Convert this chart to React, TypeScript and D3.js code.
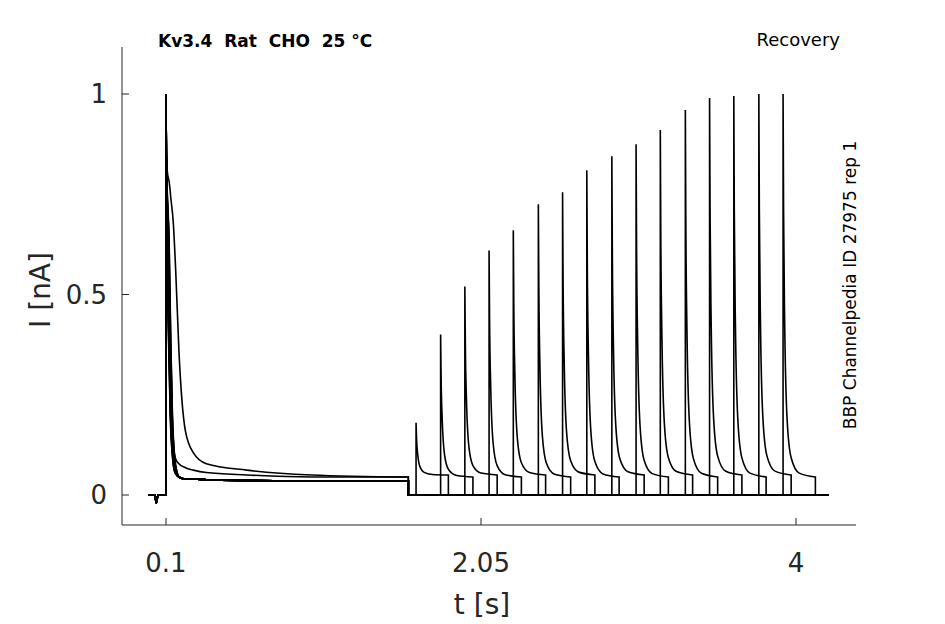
import * as d3 from "d3";
import React, { useRef, useEffect } from "react";

// test pulse onset times (s) and normalised peak currents
const testStarts = [1.648, 1.8, 1.95, 2.1, 2.25, 2.405, 2.555, 2.705, 2.86, 3.01, 3.16, 3.315, 3.465, 3.615, 3.77, 3.92];
const testPeaks = [0.18, 0.4, 0.52, 0.61, 0.66, 0.725, 0.755, 0.81, 0.845, 0.875, 0.91, 0.96, 0.99, 0.995, 1.0, 1.0];
const testPlateau = [0.05, 0.045, 0.05, 0.045, 0.05, 0.045, 0.05, 0.045, 0.05, 0.045, 0.05, 0.045, 0.05, 0.045, 0.05, 0.045];

// conditioning pulse decay, time knots shared by all sweeps
const condTimes = [0.1, 0.102, 0.11, 0.12, 0.13, 0.145, 0.16, 0.18, 0.22, 0.27, 0.35, 0.6, 1.0, 1.6];
const condFast = [1.0, 0.85, 0.62, 0.38, 0.2, 0.09, 0.055, 0.045, 0.04, 0.04, 0.038, 0.036, 0.035, 0.035];
const condMid = [1.0, 0.85, 0.66, 0.44, 0.25, 0.12, 0.09, 0.078, 0.068, 0.062, 0.056, 0.05, 0.045, 0.045];
const condSlow = [1.0, 0.84, 0.8, 0.78, 0.74, 0.68, 0.56, 0.36, 0.16, 0.105, 0.078, 0.062, 0.05, 0.045];
const condShift = [0, 0.004, -0.003, 0.008, 0.002, -0.004, 0.01, 0.003, -0.002, 0.006, 0.001, 0.009, -0.001, 0.005];

// test pulse shape relative to onset
const testDt = [0, 0.003, 0.01, 0.025, 0.05, 0.1, 0.2];
const testShape = [1, 0.7, 0.4, 0.15, 0.05, 0.01, 0];
const testLen = 0.2;

const xTicks = [0.1, 2.05, 4];
const yTicks = [0, 0.5, 1];

export default function App() {
  const ref = useRef<SVGSVGElement | null>(null);

  useEffect(() => {
    const svg = d3.select(ref.current);
    svg.selectAll("*").remove();
    const x = d3.scaleLinear().domain([0.1, 4]).range([166, 796]);
    const y = d3.scaleLinear().domain([0, 1]).range([495, 94]);
    const x0 = 122, x1 = 856, y0 = 525, y1 = 47;

    const sweeps = testStarts.map((ts, i) => {
      const sh = condShift[i % condShift.length];
      let cond = condFast;
      if (i === 14) cond = condMid;
      if (i === 15) cond = condSlow;
      const seg1: [number, number][] = [[-0.01, 0], [0.03, 0], [0.04, -0.02], [0.05, 0], [0.0995, 0]];
      condTimes.forEach((t, k) => seg1.push([t + (k > 1 && k < 7 && i < 14 ? sh : 0), cond[k]]));
      const seg2: [number, number][] = [[1.6, 0], [ts, 0]];
      const pl = testPlateau[i];
      const seg3: [number, number][] = testDt.map((d, k) => [ts + d, pl + (testPeaks[i] - pl) * testShape[k]]);
      const seg4: [number, number][] = [[ts + testLen, pl], [ts + testLen, 0], [4.2, 0]];
      return [seg1, seg2, seg3, seg4];
    });

    const smooth = d3.line<[number, number]>().x(d => x(d[0])).y(d => y(d[1])).curve(d3.curveMonotoneX);
    const lin = d3.line<[number, number]>().x(d => x(d[0])).y(d => y(d[1]));
    const g = svg.append("g").attr("fill", "none").attr("stroke", "#000").attr("stroke-width", 1.6);
    sweeps.forEach(s => {
      const d = [lin(s[0].slice(0, 5)), smooth(s[0].slice(4)), lin([s[0][s[0].length - 1], ...s[1], s[2][0]]),
        smooth(s[2]), lin([s[2][s[2].length - 1], ...s[3]])].join("");
      g.append("path").attr("d", d.replace(/M/g, (m, off) => (off === 0 ? "M" : "L")));
    });

    const ax = svg.append("g").attr("stroke", "#262626").attr("stroke-width", 1);
    ax.append("line").attr("x1", x0).attr("x2", x0).attr("y1", y1).attr("y2", y0);
    ax.append("line").attr("x1", x0).attr("x2", x1).attr("y1", y0).attr("y2", y0);
    xTicks.forEach(t => ax.append("line").attr("x1", x(t)).attr("x2", x(t)).attr("y1", y0).attr("y2", y0 - 7));
    yTicks.forEach(t => ax.append("line").attr("x1", x0).attr("x2", x0 + 7).attr("y1", y(t)).attr("y2", y(t)));

    const txt = svg.append("g").attr("font-family", "DejaVu Sans").attr("fill", "#262626");
    xTicks.forEach(t => txt.append("text").attr("x", x(t)).attr("y", 572).attr("text-anchor", "middle")
      .attr("font-size", 26).text(String(t)));
    yTicks.forEach(t => txt.append("text").attr("x", 107).attr("y", y(t) + 9).attr("text-anchor", "end")
      .attr("font-size", 26).text(String(t)));
    txt.append("text").attr("x", 482).attr("y", 614).attr("text-anchor", "middle").attr("font-size", 28).text("t [s]");
    txt.append("text").attr("transform", "translate(50,290) rotate(-90)").attr("text-anchor", "middle")
      .attr("font-size", 28).text("I [nA]");
    txt.append("text").attr("x", 158).attr("y", 47).attr("font-size", 17).attr("font-weight", "bold")
      .attr("fill", "#000").style("white-space", "pre").text("Kv3.4  Rat  CHO  25 °C");
    txt.append("text").attr("x", 840).attr("y", 46).attr("text-anchor", "end").attr("font-size", 18)
      .attr("fill", "#000").text("Recovery");
    txt.append("text").attr("transform", "translate(856,285) rotate(-90)").attr("text-anchor", "middle")
      .attr("font-size", 17).attr("fill", "#000").text("BBP Channelpedia ID 27975 rep 1");
  }, []);

  return <svg ref={ref} width={945} height={624}
    style={{ display: "block", position: "absolute", left: 0, top: 0, background: "#fff" }} />;
}
